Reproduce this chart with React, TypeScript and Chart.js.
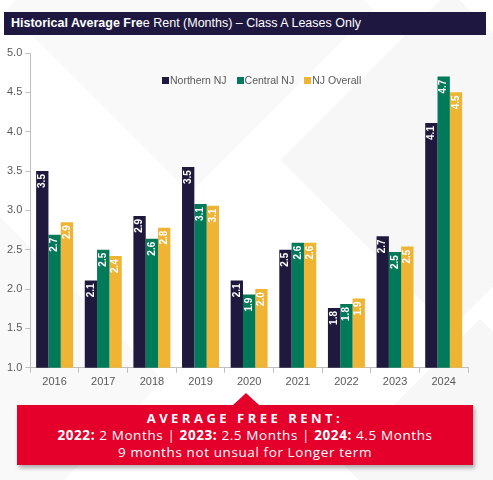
import { useRef, useEffect } from 'react'
import { Chart, registerables } from 'chart.js'

Chart.register(...registerables)

const YEARS = ['2016', '2017', '2018', '2019', '2020', '2021', '2022', '2023', '2024']
const NORTHERN = [3.5, 2.11, 2.93, 3.55, 2.11, 2.5, 1.76, 2.67, 4.11]
const CENTRAL = [2.69, 2.5, 2.64, 3.08, 1.93, 2.59, 1.81, 2.47, 4.7]
const OVERALL = [2.85, 2.42, 2.78, 3.06, 2.0, 2.59, 1.88, 2.54, 4.5]
const SERIES_NAMES = ['Northern NJ', 'Central NJ', 'NJ Overall']
const SERIES_COLORS = ['#1f1a3d', '#007a58', '#f0b435']
const Y_TICKS = [1.0, 1.5, 2.0, 2.5, 3.0, 3.5, 4.0, 4.5, 5.0]

// labels drawn inside the top of every bar, reading bottom to top
const barLabels = {
  id: 'barLabels',
  afterDatasetsDraw(chart: Chart) {
    const ctx = chart.ctx
    ctx.save()
    ctx.fillStyle = '#ffffff'
    ctx.font = 'bold 10px "Liberation Sans", Arial, sans-serif'
    ctx.textAlign = 'right'
    ctx.textBaseline = 'middle'
    chart.data.datasets.forEach((ds, i) => {
      const meta = chart.getDatasetMeta(i)
      meta.data.forEach((bar: any, j) => {
        const v = ds.data[j] as number
        ctx.save()
        ctx.translate(bar.x, bar.y + 3)
        ctx.rotate(-Math.PI / 2)
        ctx.fillText(v.toFixed(1), 0, 0)
        ctx.restore()
      })
    })
    ctx.restore()
  },
}

export default function App() {
  const canvasRef = useRef<HTMLCanvasElement>(null)
  const chartRef = useRef<Chart | null>(null)

  useEffect(() => {
    if (!canvasRef.current) return
    const ctx = canvasRef.current.getContext('2d')
    if (!ctx) return
    chartRef.current?.destroy()

    const sets = [NORTHERN, CENTRAL, OVERALL]

    chartRef.current = new Chart(ctx, {
      type: 'bar',
      data: {
        labels: YEARS,
        datasets: sets.map((d, i) => ({
          label: SERIES_NAMES[i],
          data: d,
          backgroundColor: SERIES_COLORS[i],
          borderWidth: 0,
          barPercentage: 1,
          categoryPercentage: 0.76,
        })),
      },
      options: {
        animation: false,
        responsive: true,
        maintainAspectRatio: false,
        layout: { padding: { left: 4, right: 25, top: 13, bottom: 0 } },
        plugins: {
          legend: { display: false },
          tooltip: { enabled: false },
        },
        scales: {
          x: {
            offset: true,
            grid: {
              offset: true,
              drawOnChartArea: false,
              tickLength: 5,
              color: '#bfbfbf',
            },
            border: { color: '#bfbfbf' },
            ticks: {
              color: '#595959',
              font: { size: 11, family: '"Liberation Sans", Arial, sans-serif' },
              padding: 3,
            },
          },
          y: {
            min: 1,
            max: 5,
            afterBuildTicks: (axis) => {
              axis.ticks = Y_TICKS.map((v) => ({ value: v }))
            },
            grid: {
              drawOnChartArea: false,
              tickLength: 5,
              color: '#bfbfbf',
            },
            border: { color: '#bfbfbf' },
            ticks: {
              color: '#595959',
              font: { size: 11, family: '"Liberation Sans", Arial, sans-serif' },
              padding: 3,
              callback: (v) => Number(v).toFixed(1),
            },
          },
        },
      },
      plugins: [barLabels],
    })

    return () => {
      chartRef.current?.destroy()
    }
  }, [])

  return (
    <div
      style={{
        position: 'fixed',
        left: 0,
        top: 0,
        width: 493,
        height: 480,
        overflow: 'hidden',
        background: '#ffffff',
        fontFamily: '"Liberation Sans", Arial, sans-serif',
      }}
    >
      {/* faint diagonal background shapes */}
      <div style={{ position: 'absolute', left: 60, top: -120, width: 260, height: 260, background: 'rgba(0,0,0,0.025)', transform: 'rotate(45deg)' }} />
      <div style={{ position: 'absolute', left: 330, top: 40, width: 240, height: 240, background: 'rgba(0,0,0,0.03)', transform: 'rotate(45deg)' }} />
      <div style={{ position: 'absolute', left: -150, top: 250, width: 260, height: 260, background: 'rgba(0,0,0,0.025)', transform: 'rotate(45deg)' }} />
      <div style={{ position: 'absolute', left: 380, top: 360, width: 200, height: 200, background: 'rgba(0,0,0,0.03)', transform: 'rotate(45deg)' }} />

      <div
        style={{
          position: 'absolute',
          left: 4,
          top: 12,
          width: 482,
          height: 23,
          background: '#1e1840',
          color: '#ffffff',
          fontSize: 12.5,
          lineHeight: '23px',
          paddingLeft: 7,
          boxSizing: 'border-box',
          whiteSpace: 'nowrap',
        }}
      >
        <b>Historical Average Fre</b>e Rent (Months) – Class A Leases Only
      </div>

      <div style={{ position: 'absolute', left: 0, top: 40, width: 493, height: 352 }}>
        <canvas ref={canvasRef} />
      </div>

      <div
        style={{
          position: 'absolute',
          left: 162,
          top: 74,
          display: 'flex',
          gap: 10,
          fontSize: 10.5,
          color: '#595959',
          whiteSpace: 'nowrap',
        }}
      >
        {SERIES_NAMES.map((n, i) => (
          <div key={n} style={{ display: 'flex', alignItems: 'center' }}>
            <span style={{ display: 'inline-block', width: 7, height: 7, background: SERIES_COLORS[i], marginRight: 1 }} />
            {n}
          </div>
        ))}
      </div>

      {/* red call-out */}
      <div
        style={{
          position: 'absolute',
          left: 233,
          top: 393,
          width: 0,
          height: 0,
          borderLeft: '13px solid transparent',
          borderRight: '13px solid transparent',
          borderBottom: '12px solid #e4002b',
        }}
      />
      <div
        style={{
          position: 'absolute',
          left: 17,
          top: 405,
          width: 456,
          height: 60,
          background: '#e4002b',
          boxShadow: '2px 3px 4px rgba(0,0,0,0.3)',
          color: '#ffffff',
          textAlign: 'center',
          fontFamily: '"Open Sans", "DejaVu Sans", sans-serif',
          fontSize: 13.5,
          letterSpacing: 0.6,
          lineHeight: '17px',
          paddingTop: 5,
          boxSizing: 'border-box',
        }}
      >
        <div style={{ fontWeight: 700, letterSpacing: 3.5, fontSize: 13 }}>AVERAGE FREE RENT:</div>
        <div>
          <b>2022:</b> 2 Months | <b>2023:</b> 2.5 Months | <b>2024:</b> 4.5 Months
        </div>
        <div>9 months not unsual for Longer term</div>
      </div>
    </div>
  )
}
